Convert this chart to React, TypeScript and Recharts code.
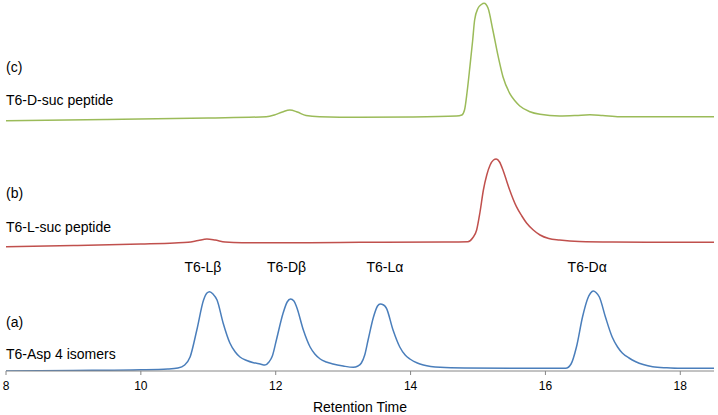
import React from "react";
import {
  LineChart,
  Line,
  XAxis,
  YAxis,
  ReferenceDot,
} from "recharts";

interface Point {
  t: number;
  v: number;
}

// baseline offsets of the stacked traces (signal units)
const offsetA = 0;
const offsetB = 124;
const offsetC = 250;

// (a) T6-Asp 4 isomers: [retention time, intensity]
const traceA: [number, number][] = [
  [8.0, 0], [9.0, 0.5], [10.0, 1.2], [10.4, 2], [10.55, 3], [10.65, 6],
  [10.73, 14], [10.83, 41], [10.93, 71], [10.98, 78], [11.02, 79.3],
  [11.07, 77], [11.13, 71], [11.22, 48], [11.32, 28], [11.4, 19],
  [11.47, 14], [11.57, 10.5], [11.67, 8.3], [11.77, 7], [11.84, 6],
  [11.9, 9], [11.95, 15], [12.01, 31], [12.11, 58], [12.17, 69],
  [12.22, 72], [12.27, 70], [12.31, 64], [12.41, 41], [12.51, 24],
  [12.58, 17], [12.66, 12], [12.75, 9], [12.85, 7], [13.0, 5],
  [13.15, 3.7], [13.22, 5], [13.27, 8], [13.32, 16], [13.37, 31],
  [13.45, 54], [13.51, 65], [13.55, 67], [13.6, 66], [13.64, 63],
  [13.74, 41], [13.84, 24], [13.92, 16], [13.99, 12], [14.1, 8],
  [14.19, 6], [14.44, 3.7], [14.8, 3], [15.5, 2.7], [16.0, 2.7],
  [16.3, 2.7], [16.38, 7], [16.46, 24], [16.55, 54], [16.63, 73],
  [16.67, 78], [16.71, 80], [16.75, 78.5], [16.8, 74], [16.89, 54],
  [16.99, 34], [17.07, 24], [17.14, 18], [17.24, 13], [17.34, 9.3],
  [17.45, 6.5], [17.59, 4.3], [17.8, 3.2], [18.0, 2.7], [18.5, 2.7],
];

// (b) T6-L-suc peptide
const traceB: [number, number][] = [
  [8.0, 0.3], [9.0, 1.5], [10.0, 3], [10.5, 4], [10.7, 4.7], [10.85, 6.5],
  [10.98, 8], [11.1, 7], [11.25, 5], [11.5, 4.3], [12.5, 4.3], [13.25, 4.7],
  [14.5, 5], [14.85, 5.3], [14.92, 9], [14.98, 17], [15.03, 35],
  [15.08, 57], [15.13, 72], [15.18, 82], [15.23, 87], [15.27, 88],
  [15.32, 85], [15.37, 77], [15.42, 67], [15.47, 57], [15.57, 40.3],
  [15.65, 31], [15.72, 24], [15.82, 17], [15.92, 12], [16.05, 8.5],
  [16.21, 7], [16.5, 5.5], [17.0, 5], [18.5, 4.7],
];

// (c) T6-D-suc peptide
const traceC: [number, number][] = [
  [8.0, 0.3], [9.5, 1.5], [11.0, 3], [11.86, 4.3], [11.98, 6], [12.1, 9],
  [12.21, 11], [12.32, 9], [12.45, 5.5], [12.65, 4.3], [13.25, 3.7],
  [14.0, 4], [14.68, 5], [14.76, 6], [14.8, 11], [14.84, 30], [14.88, 54.3],
  [14.92, 80], [14.95, 101], [15.0, 112.7], [15.05, 116.5], [15.09, 117.7],
  [15.12, 116.5], [15.15, 112.7], [15.22, 91], [15.3, 64.3], [15.37, 44.3],
  [15.47, 27.7], [15.55, 20], [15.62, 15], [15.77, 9.3], [15.92, 6.7],
  [16.21, 5], [16.45, 5.5], [16.66, 6.3], [16.85, 5.5], [17.1, 4.3],
  [18.5, 4.3],
];

const xTicks = [8, 10, 12, 14, 16, 18];

const peakLabels = [
  { name: "T6-Lβ", t: 10.92 },
  { name: "T6-Dβ", t: 12.16 },
  { name: "T6-Lα", t: 13.62 },
  { name: "T6-Dα", t: 16.62 },
];
const peakLabelLevel = 104;

const sideLabels = [
  { text: "(c)", v: 304 },
  { text: "T6-D-suc peptide", v: 271 },
  { text: "(b)", v: 178 },
  { text: "T6-L-suc peptide", v: 144 },
  { text: "(a)", v: 49 },
  { text: "T6-Asp 4 isomers", v: 16.5 },
];

const toPoints = (trace: [number, number][], offset: number): Point[] =>
  trace.map(([t, v]) => ({ t, v: v + offset }));

const dataA = toPoints(traceA, offsetA);
const dataB = toPoints(traceB, offsetB);
const dataC = toPoints(traceC, offsetC);

const App: React.FC = () => {
  return (
    <div
      style={{
        position: "absolute",
        left: 0,
        top: 0,
        width: 718,
        height: 415,
        background: "#fff",
        fontFamily: "'Liberation Sans', Arial, sans-serif",
      }}
    >
      <LineChart
        width={718}
        height={415}
        margin={{ top: 0, right: 4, left: 6, bottom: 0 }}
      >
        <XAxis
          type="number"
          dataKey="t"
          domain={[8, 18.5]}
          ticks={xTicks}
          allowDataOverflow
          height={44}
          tickSize={4}
          tickMargin={6}
          stroke="#868686"
          tick={{ fill: "#000", fontSize: 12 }}
          label={{
            value: "Retention Time",
            position: "insideBottom",
            offset: 3,
            fill: "#000",
            fontSize: 14,
          }}
        />
        <YAxis hide type="number" domain={[0, 371]} allowDataOverflow />
        <Line
          data={dataC}
          dataKey="v"
          type="monotone"
          stroke="#9BBB59"
          strokeWidth={1.5}
          dot={false}
          isAnimationActive={false}
        />
        <Line
          data={dataB}
          dataKey="v"
          type="monotone"
          stroke="#C0504D"
          strokeWidth={1.5}
          dot={false}
          isAnimationActive={false}
        />
        <Line
          data={dataA}
          dataKey="v"
          type="monotone"
          stroke="#4A7EBB"
          strokeWidth={1.5}
          dot={false}
          isAnimationActive={false}
        />
        {peakLabels.map((p) => (
          <ReferenceDot
            key={p.name}
            x={p.t}
            y={peakLabelLevel}
            r={0}
            fill="none"
            stroke="none"
            label={{
              value: p.name,
              position: "center",
              fill: "#000",
              fontSize: 14,
            }}
          />
        ))}
        {sideLabels.map((s) => (
          <ReferenceDot
            key={s.text}
            x={8}
            y={s.v}
            r={0}
            fill="none"
            stroke="none"
            label={{
              value: s.text,
              position: "right",
              offset: 0,
              fill: "#000",
              fontSize: 14,
            }}
          />
        ))}
      </LineChart>
    </div>
  );
};

export default App;
